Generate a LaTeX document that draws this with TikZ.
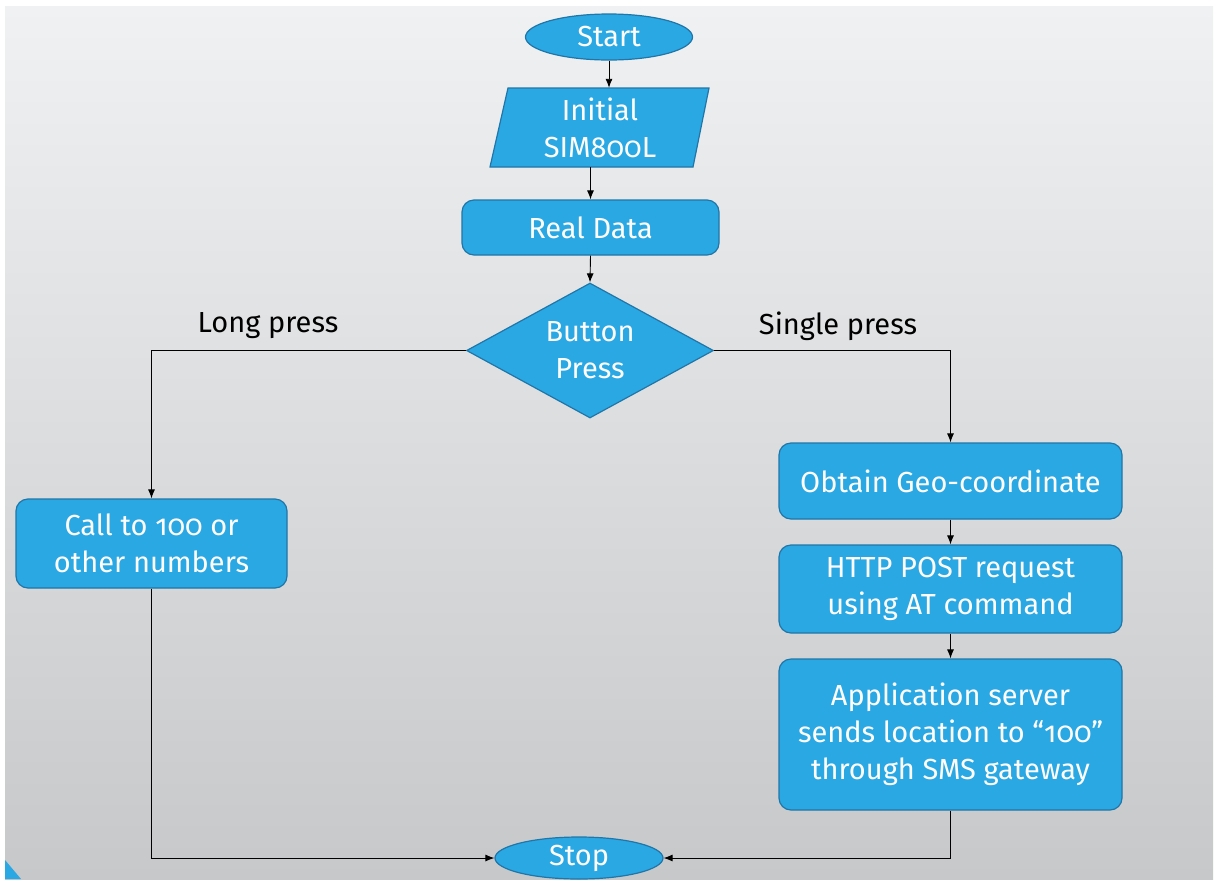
\documentclass[tikz,border=0pt]{standalone}
\usepackage{fontspec}
\setmainfont{Fira Sans}[Numbers=OldStyle]
\usetikzlibrary{shapes.geometric,arrows.meta}
\definecolor{boxblue}{RGB}{42,168,228}
\definecolor{edgeblue}{RGB}{32,118,168}
\definecolor{bgtop}{RGB}{240,241,242}
\definecolor{bgbot}{RGB}{198,200,202}
\begin{document}
\begin{tikzpicture}[x=1pt,y=-1pt,
  txt/.style={text=white, font=\fontsize{29}{37}\selectfont, align=center},
  procbox/.style={txt, draw=edgeblue, line width=1.2pt, fill=boxblue, rounded corners=12pt, inner sep=0pt},
  term/.style={txt, ellipse, draw=edgeblue, line width=1.2pt, fill=boxblue, inner sep=0pt},
  decis/.style={txt, diamond, aspect=1.83, draw=edgeblue, line width=1.2pt, fill=boxblue, inner sep=0pt},
  arr/.style={-{Latex[length=9pt,width=7pt]}, line width=0.9pt, black},
  lbl/.style={font=\fontsize{29}{32}\selectfont, text=black}
]
\useasboundingbox (0,0) rectangle (1219,879);
\fill[white] (0,0) rectangle (1219,879);
\shade[top color=bgtop, bottom color=bgbot] (5,6) rectangle (1213,879);
\fill[boxblue] (5,860) -- (21,879) -- (5,879) -- cycle;

\node[term, minimum width=167pt, minimum height=46pt] (start) at (609,37) {Start};
\draw[draw=edgeblue, line width=1.2pt, fill=boxblue] (508,88) -- (709,88) -- (693,167) -- (490,167) -- cycle;
\node[txt, minimum width=200pt, minimum height=79pt, inner sep=0pt] (init) at (600,127.5) {Initial\\SIM800L};
\node[procbox, minimum width=257pt, minimum height=55pt] (real) at (590.5,227.5) {Real Data};
\node[decis, minimum width=247pt, minimum height=135pt] (btn) at (590,350.5) {Button\\Press};
\node[procbox, minimum width=271pt, minimum height=89pt] (call) at (151.5,543.5) {Call to 100 or\\other numbers};
\node[procbox, minimum width=343pt, minimum height=76pt] (geo) at (950.5,481) {Obtain Geo-coordinate};
\node[procbox, minimum width=343pt, minimum height=88pt] (http) at (950.5,589) {HTTP POST request\\using AT command};
\node[procbox, minimum width=343pt, minimum height=151pt] (app) at (950.5,734.5) {Application server\\sends location to “100”\\through SMS gateway};
\node[term, minimum width=168pt, minimum height=42pt] (stop) at (579,858) {Stop};

\node[lbl] (lp) at (268,326) {Long press};
\node[lbl] (sp) at (838,326) {Single press};

\draw[arr] (start.south) -- (start.south |- init.north);
\draw[arr] (real.north |- init.south) -- (real.north);
\draw[arr] (real.south) -- (btn.north);
\draw[arr] (btn.west) -| (call.north);
\draw[arr] (btn.east) -| (geo.north);
\draw[arr] (geo.south) -- (http.north);
\draw[arr] (http.south) -- (app.north);
\draw[arr] (call.south) |- (stop.west);
\draw[arr] (app.south) |- (stop.east);
\end{tikzpicture}
\end{document}
